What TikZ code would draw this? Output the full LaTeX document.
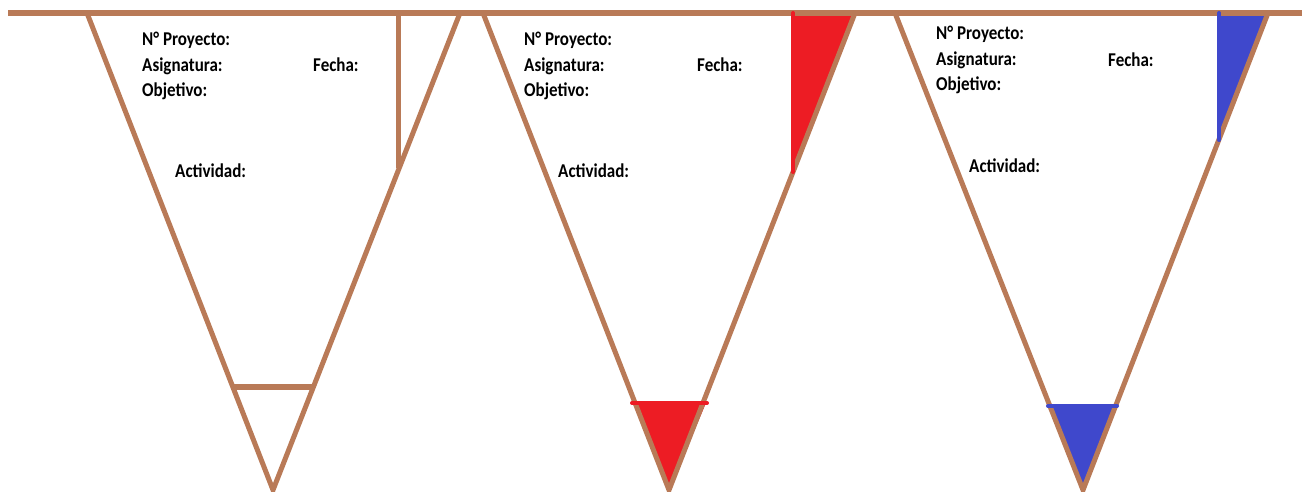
\documentclass[tikz,border=0pt]{standalone}
\usepackage{fontspec}
\setmainfont{Carlito}
\definecolor{cafe}{RGB}{185,122,87}
\definecolor{rojo}{RGB}{237,28,36}
\definecolor{azul}{RGB}{63,72,204}
\newcommand{\alto}[1]{\scalebox{1}[1.15]{#1}}
\tikzset{
  cuerda/.style={cafe, line width=6pt},
  bandera/.style={cafe, line width=5pt},
  marca/.style={line width=4pt, line cap=round},
  campo/.style={anchor=base west, inner sep=0pt, font=\fontsize{17}{20}\selectfont\bfseries},
}

\begin{document}
\begin{tikzpicture}[x=1pt,y=-1pt]
\useasboundingbox (0,0) rectangle (1309,492);
% rellenos
\fill[rojo] (793,13) -- (855,13) -- (793,172) -- cycle;
\fill[rojo] (633,403) -- (706,403) -- (669,490) -- cycle;
\fill[azul] (1219,13) -- (1268,13) -- (1219,140) -- cycle;
\fill[azul] (1049,406) -- (1117,406) -- (1083,490) -- cycle;
% banderines
\foreach \a/\b/\c in {87/273/460, 483/669/855, 895/1083/1268}
  { \draw[bandera] (\a,13) -- (\b,490) -- (\c,13); }
\draw[bandera] (398,13) -- (398,168);
\draw[bandera, line width=6pt] (233,387) -- (313,387);
\draw[cuerda] (8,13) -- (1302,13);
\draw[marca, rojo] (793,13) -- (793,172);
\draw[marca, rojo] (632,403) -- (707,403);
\draw[marca, azul] (1219,13) -- (1219,140);
\draw[marca, azul] (1048,406) -- (1117,406);
% textos
\foreach \i/\x/\y in {1/142/46, 2/524/46, 3/936/40}
  { \node[campo] (np\i) at (\x,\y) {\alto{N° Proyecto:}};
    \node[campo] (as\i) at (\x,\y+26) {\alto{Asignatura:}};
    \node[campo] (ob\i) at (\x,\y+51) {\alto{Objetivo:}}; }
\foreach \i/\x/\y in {1/313/72, 2/697/72, 3/1108/67}
  { \node[campo] (fe\i) at (\x,\y) {\alto{Fecha:}}; }
\foreach \i/\x/\y in {1/175/178, 2/558/178, 3/969/172}
  { \node[campo] (ac\i) at (\x,\y) {\alto{Actividad:}}; }
\end{tikzpicture}
\end{document}
